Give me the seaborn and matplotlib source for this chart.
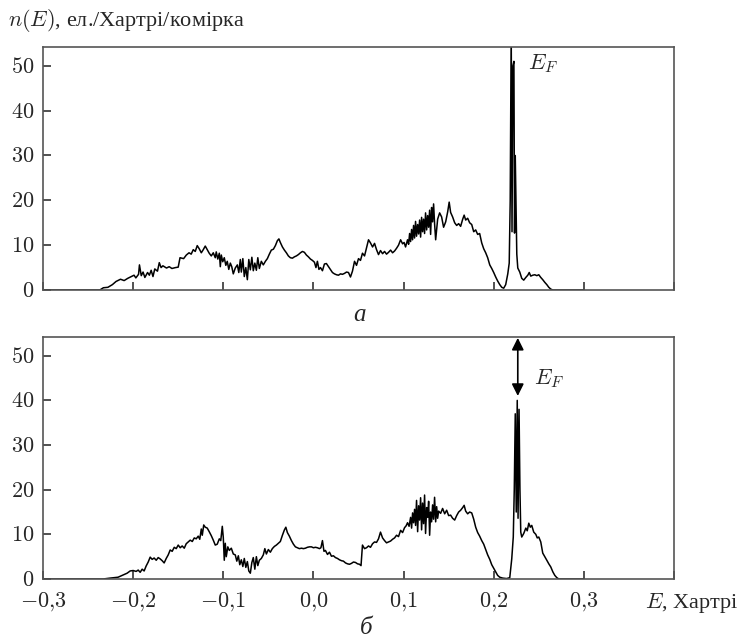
import matplotlib
matplotlib.use("Agg")
import matplotlib.pyplot as plt
import seaborn as sns
import pandas as pd

# ---------------- data (Hartree, states per Hartree per cell) ----------------
E_a = [-0.300, -0.237, -0.233, -0.228, -0.223, -0.219, -0.214, -0.210, -0.206, -0.202,
       -0.199, -0.197, -0.194, -0.193, -0.191, -0.189, -0.187, -0.184, -0.182, -0.180,
       -0.178, -0.176, -0.173, -0.171, -0.169, -0.167, -0.163, -0.160, -0.157, -0.153,
       -0.150, -0.148, -0.144, -0.141, -0.138, -0.1356, -0.1333, -0.1311, -0.1289, -0.1267,
       -0.1244, -0.1222, -0.1200, -0.1178, -0.1156, -0.1133, -0.1111, -0.1089, -0.1078, -0.1061,
       -0.1044, -0.1033, -0.1022, -0.1006, -0.0989, -0.0972, -0.0956, -0.0939, -0.0922, -0.0906,
       -0.0889, -0.0867, -0.0844, -0.0828, -0.0811, -0.0800, -0.0783, -0.0767, -0.0750, -0.0733,
       -0.0717, -0.0700, -0.0683, -0.0667, -0.0650, -0.0633, -0.0617, -0.0600, -0.0578, -0.0556,
       -0.0533, -0.0511, -0.0489, -0.0467, -0.0444, -0.0422, -0.0400, -0.0383, -0.0367, -0.0344,
       -0.0322, -0.0300, -0.0278, -0.0256, -0.0233, -0.0211, -0.0189, -0.0167, -0.0144, -0.0122,
       -0.0100, -0.0078, -0.0056, -0.0033, -0.0011, 0.0011, 0.0028, 0.0044, 0.0061, 0.0078,
       0.0100, 0.0122, 0.0144, 0.0167, 0.0189, 0.0211, 0.0233, 0.0256, 0.0278, 0.0300,
       0.0322, 0.0344, 0.0367, 0.0389, 0.0411, 0.0433, 0.0456, 0.0478, 0.0500, 0.0522,
       0.0544, 0.0567, 0.0589, 0.0611, 0.0633, 0.0656, 0.0678, 0.0700, 0.0722, 0.0744,
       0.0767, 0.0789, 0.0811, 0.0833, 0.0856, 0.0878, 0.0900, 0.0922, 0.0944, 0.0967,
       0.0989, 0.1006, 0.1022, 0.1044, 0.1056, 0.1067, 0.1078, 0.1089, 0.1100, 0.1111,
       0.1122, 0.1133, 0.1144, 0.1156, 0.1167, 0.1178, 0.1189, 0.1200, 0.1211, 0.1222,
       0.1233, 0.1244, 0.1256, 0.1267, 0.1278, 0.1289, 0.1300, 0.1311, 0.1322, 0.1333,
       0.1344, 0.1356, 0.1378, 0.1400, 0.1422, 0.1444, 0.1467, 0.1489, 0.1506, 0.1522,
       0.1544, 0.1567, 0.1589, 0.1611, 0.1633, 0.1656, 0.1672, 0.1689, 0.1711, 0.1733,
       0.1756, 0.1778, 0.1800, 0.1822, 0.1844, 0.1867, 0.1889, 0.1911, 0.1933, 0.1956,
       0.1978, 0.2000, 0.2022, 0.2044, 0.2067, 0.2089, 0.2111, 0.2133, 0.2156, 0.2172,
       0.2183, 0.2194, 0.2203, 0.2213, 0.2224, 0.2231, 0.2239, 0.2256, 0.2267, 0.2289,
       0.2311, 0.2333, 0.2356, 0.2378, 0.2394, 0.2411, 0.2433, 0.2456, 0.2478, 0.2500,
       0.2522, 0.2544, 0.2567, 0.2589, 0.2611, 0.2633, 0.2656, 0.3000]
n_a = [0, 0, 0.5, 0.6, 1.2, 1.9, 2.4, 2.1, 2.6, 3.0,
       3.3, 2.7, 3.5, 5.6, 3.2, 4.0, 2.8, 3.9, 3.3, 4.4,
       3.0, 4.7, 4.2, 6.1, 5.0, 5.4, 4.9, 5.2, 4.8, 5.0,
       5.1, 7.2, 7.0, 7.8, 8.3, 8.0, 9.0, 8.6, 9.9, 9.2,
       8.3, 9.0, 9.8, 9.0, 8.2, 7.6, 8.3, 7.2, 8.5, 6.9,
       8.2, 5.2, 7.8, 6.3, 7.2, 5.5, 6.4, 4.6, 6.0, 5.2,
       3.6, 4.9, 5.6, 3.9, 6.8, 4.0, 7.0, 3.0, 5.0, 2.3,
       6.8, 4.5, 7.3, 4.3, 6.0, 4.4, 7.2, 4.8, 6.4, 5.6,
       6.4, 7.0, 8.0, 8.9, 9.1, 9.9, 11.0, 11.4, 10.6, 9.6,
       8.9, 8.3, 7.6, 7.2, 7.1, 7.4, 7.6, 7.9, 8.3, 8.6,
       8.4, 7.8, 7.4, 6.9, 6.6, 6.2, 5.0, 6.4, 4.6, 5.0,
       4.3, 5.8, 5.9, 5.2, 4.5, 3.9, 3.6, 3.4, 3.3, 3.6,
       3.5, 3.7, 4.0, 3.9, 2.9, 4.2, 6.4, 5.5, 7.0, 6.6,
       8.2, 7.6, 9.4, 11.2, 10.5, 9.6, 10.4, 9.0, 7.9, 8.8,
       8.1, 8.6, 8.0, 8.4, 8.9, 8.3, 8.7, 9.3, 10.0, 11.2,
       10.3, 10.6, 9.6, 11.2, 10.2, 12.6, 10.8, 13.5, 11.2, 14.4,
       11.6, 15.3, 12.0, 14.6, 12.5, 15.6, 11.8, 16.2, 13.0, 15.8,
       12.6, 17.2, 13.4, 16.6, 14.0, 17.8, 12.4, 18.4, 15.2, 19.2,
       14.8, 11.2, 15.8, 17.2, 16.3, 14.0, 15.2, 17.4, 19.6, 17.3,
       16.3, 15.0, 14.4, 14.8, 14.2, 15.8, 16.7, 15.6, 16.0, 15.0,
       14.6, 13.0, 13.4, 12.4, 12.6, 10.5, 9.2, 8.3, 7.2, 5.6,
       4.8, 3.9, 2.9, 2.0, 1.2, 0.6, 0.4, 1.2, 3.6, 6.0,
       20.0, 58.0, 13.0, 50.0, 51.0, 12.7, 30.0, 8.0, 4.9, 4.0,
       2.6, 2.2, 2.8, 3.3, 3.9, 3.1, 3.3, 3.4, 3.2, 3.4,
       2.8, 2.3, 1.7, 1.2, 0.6, 0.2, 0, 0]

E_b = [-0.300, -0.2333, -0.2256, -0.2167, -0.2111, -0.2067, -0.2033, -0.2000, -0.1967, -0.1944,
       -0.1922, -0.1900, -0.1878, -0.1856, -0.1833, -0.1811, -0.1789, -0.1767, -0.1744, -0.1722,
       -0.1700, -0.1678, -0.1656, -0.1633, -0.1611, -0.1589, -0.1567, -0.1544, -0.1522, -0.1500,
       -0.1478, -0.1456, -0.1433, -0.1411, -0.1389, -0.1367, -0.1344, -0.1322, -0.1300, -0.1278,
       -0.1261, -0.1244, -0.1233, -0.1217, -0.1200, -0.1178, -0.1156, -0.1133, -0.1111, -0.1089,
       -0.1067, -0.1044, -0.1028, -0.1011, -0.1000, -0.0989, -0.0978, -0.0967, -0.0950, -0.0933,
       -0.0911, -0.0889, -0.0867, -0.0850, -0.0833, -0.0817, -0.0800, -0.0783, -0.0767, -0.0750,
       -0.0733, -0.0717, -0.0700, -0.0683, -0.0667, -0.0650, -0.0633, -0.0617, -0.0600, -0.0578,
       -0.0556, -0.0539, -0.0522, -0.0500, -0.0478, -0.0456, -0.0433, -0.0411, -0.0389, -0.0367,
       -0.0344, -0.0322, -0.0306, -0.0289, -0.0267, -0.0244, -0.0222, -0.0200, -0.0178, -0.0156,
       -0.0133, -0.0111, -0.0089, -0.0067, -0.0044, -0.0022, 0.0000, 0.0022, 0.0044, 0.0067,
       0.0083, 0.0100, 0.0117, 0.0133, 0.0156, 0.0178, 0.0200, 0.0222, 0.0244, 0.0267,
       0.0289, 0.0311, 0.0333, 0.0356, 0.0378, 0.0400, 0.0422, 0.0444, 0.0467, 0.0489,
       0.0511, 0.0528, 0.0544, 0.0567, 0.0589, 0.0611, 0.0633, 0.0656, 0.0678, 0.0700,
       0.0722, 0.0744, 0.0767, 0.0789, 0.0811, 0.0833, 0.0856, 0.0878, 0.0900, 0.0922,
       0.0944, 0.0967, 0.0989, 0.1011, 0.1028, 0.1044, 0.1061, 0.1078, 0.1089, 0.1100,
       0.1111, 0.1122, 0.1133, 0.1144, 0.1156, 0.1167, 0.1178, 0.1189, 0.1200, 0.1211,
       0.1222, 0.1233, 0.1244, 0.1256, 0.1267, 0.1278, 0.1289, 0.1300, 0.1311, 0.1322,
       0.1333, 0.1344, 0.1356, 0.1367, 0.1378, 0.1389, 0.1411, 0.1433, 0.1456, 0.1478,
       0.1500, 0.1522, 0.1544, 0.1567, 0.1589, 0.1611, 0.1633, 0.1656, 0.1672, 0.1689,
       0.1711, 0.1733, 0.1756, 0.1778, 0.1800, 0.1822, 0.1844, 0.1867, 0.1889, 0.1911,
       0.1933, 0.1956, 0.1978, 0.2000, 0.2022, 0.2044, 0.2067, 0.2100, 0.2144, 0.2178,
       0.2200, 0.2217, 0.2228, 0.2239, 0.2250, 0.2261, 0.2270, 0.2281, 0.2291, 0.2300,
       0.2311, 0.2333, 0.2356, 0.2372, 0.2389, 0.2406, 0.2422, 0.2444, 0.2467, 0.2483,
       0.2500, 0.2522, 0.2544, 0.2567, 0.2589, 0.2611, 0.2633, 0.2656, 0.2678, 0.2700,
       0.2722, 0.3000]
n_b = [0, 0, 0.2, 0.4, 0.9, 1.3, 1.8, 1.9, 1.7, 2.0,
       1.5, 2.2, 1.8, 2.9, 3.8, 4.9, 4.4, 4.7, 4.2, 4.8,
       4.5, 4.1, 3.6, 4.6, 5.4, 6.5, 6.2, 7.1, 6.8, 7.6,
       7.0, 7.4, 6.9, 7.9, 8.3, 8.7, 8.4, 9.2, 9.0, 9.6,
       8.9, 11.2, 9.8, 12.1, 11.6, 11.4, 10.6, 9.7, 8.7, 7.6,
       7.8, 9.0, 8.6, 11.8, 9.3, 4.2, 8.0, 5.0, 7.2, 6.4,
       6.9, 5.6, 5.4, 4.0, 5.2, 3.2, 4.3, 2.8, 4.6, 2.6,
       3.9, 1.8, 1.3, 3.7, 4.8, 2.2, 5.0, 3.0, 4.2, 4.6,
       5.4, 6.8, 5.6, 6.6, 6.0, 6.8, 7.3, 7.6, 8.0, 8.4,
       9.8, 11.0, 11.6, 10.4, 9.6, 8.6, 7.8, 7.2, 7.0, 6.8,
       6.9, 6.8, 6.9, 7.1, 7.2, 7.2, 7.0, 7.1, 7.0, 6.8,
       7.0, 8.6, 6.2, 6.4, 5.5, 6.0, 5.1, 5.2, 4.8, 4.6,
       4.3, 4.1, 4.0, 3.6, 3.4, 3.3, 3.5, 3.8, 3.7, 3.4,
       3.3, 3.0, 7.6, 6.8, 7.0, 7.4, 7.1, 7.9, 8.3, 8.2,
       9.0, 10.5, 9.2, 8.6, 8.1, 8.3, 8.5, 8.9, 9.2, 9.8,
       9.5, 10.9, 10.4, 11.5, 11.9, 12.6, 11.8, 13.8, 11.4, 14.8,
       12.6, 15.6, 12.0, 17.6, 10.6, 16.4, 13.2, 18.2, 11.0, 17.0,
       12.4, 18.8, 10.2, 16.0, 13.8, 17.4, 9.8, 15.0, 12.8, 16.6,
       13.4, 18.3, 12.8, 16.2, 13.6, 15.2, 14.7, 15.8, 14.6, 15.4,
       14.2, 14.3, 13.6, 13.2, 14.2, 15.0, 15.4, 16.0, 16.5, 15.2,
       14.6, 15.0, 14.8, 13.4, 11.6, 10.4, 9.6, 8.6, 7.8, 6.6,
       5.4, 4.4, 3.2, 2.4, 1.6, 0.8, 0.4, 0.2, 0.1, 0.3,
       4.5, 9.4, 20.0, 37.0, 15.0, 40.0, 13.6, 38.0, 20.0, 10.5,
       9.4, 10.2, 11.4, 10.8, 12.5, 11.6, 12.0, 10.5, 10.0, 9.2,
       9.4, 8.3, 5.8, 5.0, 4.2, 3.4, 2.7, 1.6, 0.8, 0.3,
       0, 0]

x_ticks = [-0.3, -0.2, -0.1, 0.0, 0.1, 0.2, 0.3, 0.4]
x_tick_labels = [r"$-0{,}3$", r"$-0{,}2$", r"$-0{,}1$", r"$0{,}0$", r"$0{,}1$", r"$0{,}2$", r"$0{,}3$", ""]
y_ticks = [0, 10, 20, 30, 40, 50]
E_fermi_b = 0.2267
arrow_top, arrow_bottom = 54.0, 41.0

# ---------------- style ----------------
sns.set_style("white")
plt.rcParams["font.family"] = ["Liberation Serif", "DejaVu Serif"]
plt.rcParams["mathtext.fontset"] = "cm"
plt.rcParams["axes.unicode_minus"] = True

fig = plt.figure(figsize=(7.44, 6.43), dpi=100)
ax_a = fig.add_axes([43 / 744, 1 - 290 / 643, 631 / 744, 243 / 643])
ax_b = fig.add_axes([43 / 744, 1 - 579 / 643, 631 / 744, 242 / 643])

df_a = pd.DataFrame({"E": E_a, "n": n_a})
df_b = pd.DataFrame({"E": E_b, "n": n_b})

for ax, df in ((ax_a, df_a), (ax_b, df_b)):
    sns.lineplot(data=df, x="E", y="n", ax=ax, color="black", linewidth=1.1,
                 estimator=None, sort=False)
    ax.set_xlim(-0.3, 0.4)
    ax.set_ylim(0, 54.2)
    ax.set_xlabel("")
    ax.set_ylabel("")
    ax.set_yticks(y_ticks)
    ax.set_yticklabels([f"${v}$" for v in y_ticks])
    ax.set_xticks(x_ticks)
    ax.tick_params(axis="both", direction="in", length=6, width=1.2, color="#333333",
                   labelsize=16, top=False, right=False, bottom=True, left=True)
    ax.tick_params(axis="y", pad=6)
    ax.tick_params(axis="x", pad=8)
    for s in ax.spines.values():
        s.set_color("#555555")
        s.set_linewidth(1.2)

ax_a.set_xticklabels([""] * len(x_ticks))
ax_b.set_xticklabels(x_tick_labels)

# Fermi level labels
ax_a.text(0.2378, 50.5, r"$E_F$", fontsize=16, va="center", ha="left")
ax_b.text(0.2444, 44.9, r"$E_F$", fontsize=16, va="center", ha="left")
ax_b.annotate("", xy=(E_fermi_b, arrow_top), xytext=(E_fermi_b, arrow_bottom),
              arrowprops=dict(arrowstyle="<|-|>", color="black", lw=1.2,
                              mutation_scale=18, shrinkA=0, shrinkB=0))

# panel captions and axis titles
fig.text(8 / 744, 1 - 20 / 643, r"$n(E)$, ел./Хартрі/комірка", fontsize=16,
         ha="left", va="center")
fig.text(360 / 744, 1 - 315 / 643, "а", fontsize=18, style="italic",
         ha="center", va="center")
fig.text(366 / 744, 1 - 628 / 643, "б", fontsize=18, style="italic",
         ha="center", va="center")
fig.text(645 / 744, 1 - 603 / 643, r"$E$, Хартрі", fontsize=16,
         ha="left", va="center")

fig.savefig("out.png", dpi=100)
